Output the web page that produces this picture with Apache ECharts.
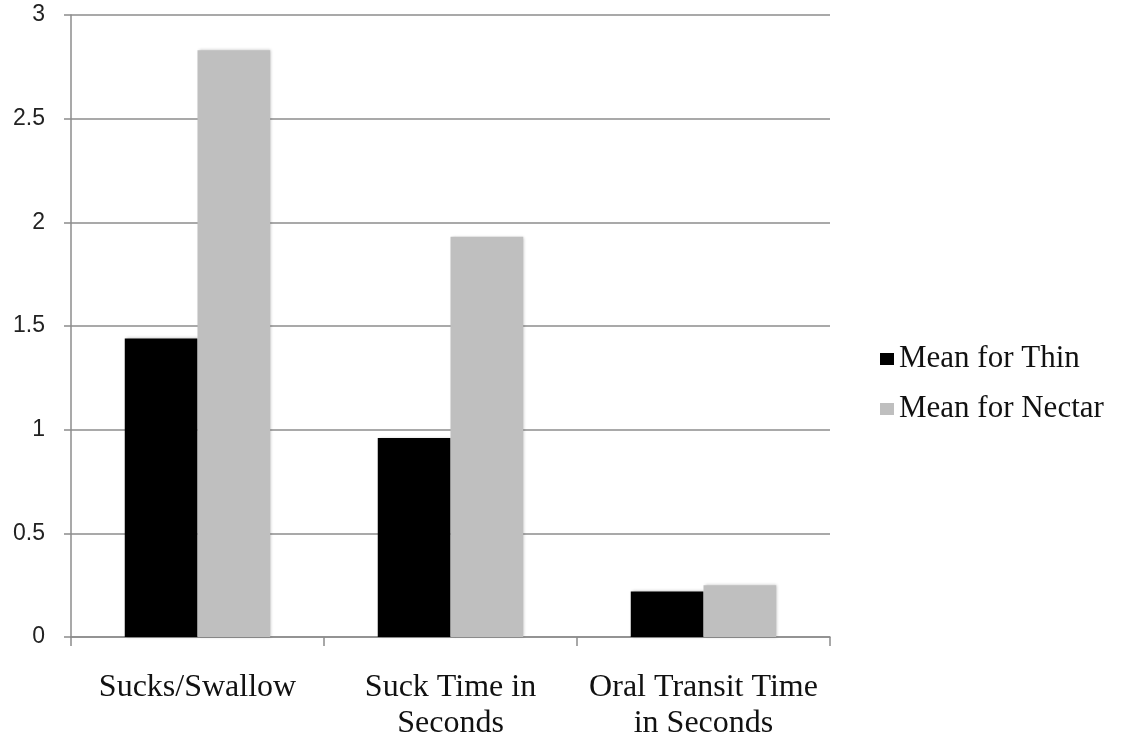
<!DOCTYPE html>
<html>
<head>
<meta charset="utf-8">
<script src="https://cdn.jsdelivr.net/npm/echarts@6/dist/echarts.min.js"></script>
<style>
  html, body { margin: 0; padding: 0; background: #fff; }
  #chart { width: 1123px; height: 740px; }
</style>
</head>
<body>
<div id="chart"></div>
<script>
// Swallowing measures, thin vs. nectar-thick liquid
const categories = ['Sucks/Swallow', 'Suck Time in Seconds', 'Oral Transit Time in Seconds'];
const categoryLabels = ['Sucks/Swallow', 'Suck Time in\nSeconds', 'Oral Transit Time\nin Seconds'];
const meanThin = [1.44, 0.96, 0.22];
const meanNectar = [2.83, 1.93, 0.25];
const yTicks = [0, 0.5, 1, 1.5, 2, 2.5, 3];

const chart = echarts.init(document.getElementById('chart'));
const barShadow = { shadowBlur: 3, shadowColor: 'rgba(0,0,0,0.25)', shadowOffsetX: 1, shadowOffsetY: 0 };

chart.setOption({
  animation: false,
  grid: { left: 71, right: 293, top: 15, bottom: 103, containLabel: false, outerBoundsMode: 'none' },
  legend: {
    orient: 'vertical',
    left: 875,
    top: 337,
    itemWidth: 14,
    itemHeight: 12,
    itemGap: 16,
    icon: 'rect',
    textStyle: { fontFamily: 'Liberation Serif', fontSize: 31, color: '#111', lineHeight: 34, padding: [0, 0, 0, 0] },
    data: ['Mean for Thin', 'Mean for Nectar']
  },
  xAxis: {
    type: 'category',
    data: categories,
    axisLine: { lineStyle: { color: '#8c8c8c', width: 1.5 } },
    axisTick: { show: true, interval: 0, length: 9, lineStyle: { color: '#8c8c8c', width: 1.5 } },
    axisLabel: {
      interval: 0,
      hideOverlap: false,
      margin: 33,
      fontFamily: 'Liberation Serif',
      fontSize: 32,
      lineHeight: 36,
      color: '#111',
      formatter: (v) => categoryLabels[categories.indexOf(v)]
    }
  },
  yAxis: {
    type: 'value',
    min: yTicks[0],
    max: yTicks[yTicks.length - 1],
    interval: 0.5,
    axisLine: { show: true, lineStyle: { color: '#8c8c8c', width: 1.5 } },
    axisTick: { show: true, length: 7, lineStyle: { color: '#8c8c8c', width: 1.5 } },
    splitLine: { lineStyle: { color: '#8c8c8c', width: 1.5 } },
    axisLabel: {
      margin: 26,
      fontFamily: 'Liberation Sans',
      fontSize: 23,
      color: '#222',
      formatter: (v) => String(v)
    }
  },
  series: [
    {
      name: 'Mean for Thin',
      type: 'bar',
      data: meanThin,
      barGap: '0%',
      barCategoryGap: '42.5%',
      itemStyle: Object.assign({ color: '#000000' }, barShadow)
    },
    {
      name: 'Mean for Nectar',
      type: 'bar',
      data: meanNectar,
      barGap: '0%',
      barCategoryGap: '42.5%',
      itemStyle: Object.assign({ color: '#bfbfbf' }, barShadow)
    }
  ]
});
</script>
</body>
</html>
